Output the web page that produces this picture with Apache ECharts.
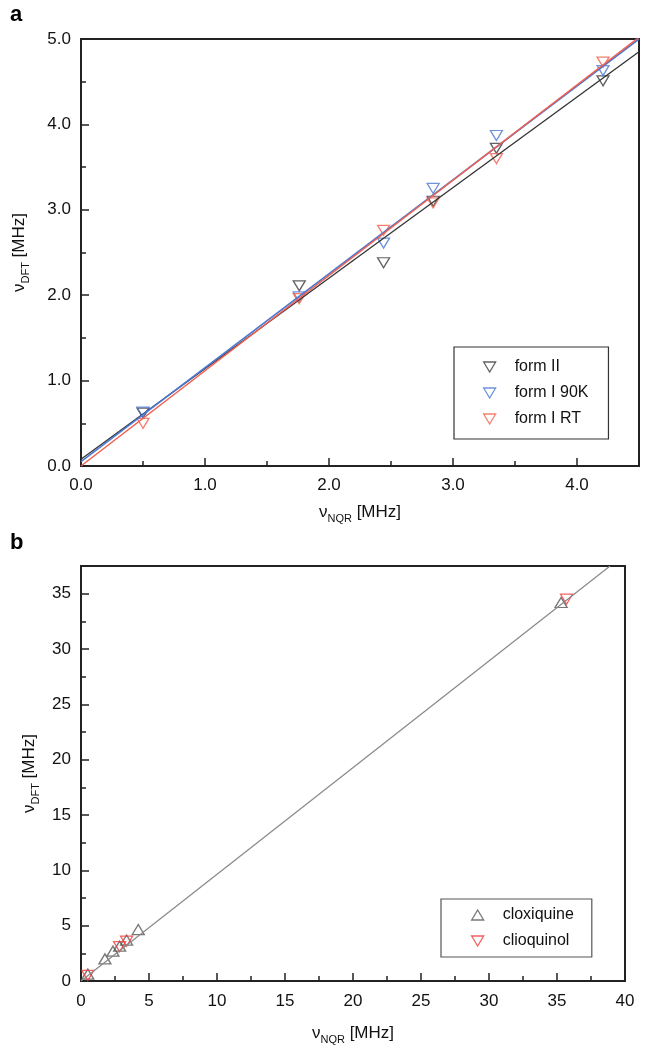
<!DOCTYPE html>
<html>
<head>
<meta charset="utf-8">
<script src="https://cdn.jsdelivr.net/npm/echarts@6/dist/echarts.min.js"></script>
<style>
html,body{margin:0;padding:0;background:#fff;}
#c{width:650px;height:1049px;}
</style>
</head>
<body>
<div id="c"></div>
<script>
// Panel a data (nu_NQR, nu_DFT) in MHz
var formII = [[0.50,0.62],[1.76,2.11],[2.44,2.38],[2.84,3.10],[3.35,3.72],[4.21,4.51]];
var formI90K = [[0.50,0.63],[1.76,1.98],[2.44,2.61],[2.84,3.25],[3.35,3.87],[4.21,4.63]];
var formIRT = [[0.50,0.50],[1.76,1.96],[2.44,2.76],[2.84,3.08],[3.35,3.60],[4.21,4.73]];
var fitII = [[0,0.08],[4.5,4.85]];
var fit90K = [[0,0.05],[4.5,5.0]];
var fitRT = [[0,0.0],[4.5,5.02]];
// Panel b data
var cloxiquine = [[0.50,0.62],[1.76,2.00],[2.35,2.70],[2.84,3.15],[3.35,3.70],[4.21,4.65],[35.3,34.2]];
var clioquinol = [[0.50,0.50],[2.84,3.10],[3.35,3.60],[35.7,34.5]];
var fitB = [[0,0],[38.9,37.5]];
// tick settings
var ticksA = {xMax:4.5, xStep:1, yMax:5, yStep:1};
var ticksB = {xMax:40, xStep:5, yMax:37.5, yStep:5};

var FONT = '"Liberation Sans", Arial, sans-serif';
var AX = '#222';
var BLACK = '#3a3a3a', BLUE = '#4a78d2', RED = '#f2604e', RED2 = '#f03a3a';
var downIcon = 'path://M0,0L12,0L6,10Z';
var upIcon = 'path://M6,0L12,10L0,10Z';

function axisLine(){ return {show:true, onZero:false, lineStyle:{color:AX, width:2}}; }
function lbl(extra){ return Object.assign({color:'#111', fontSize:17, fontFamily:FONT}, extra||{}); }
var rich = {
  n:{fontSize:17, fontFamily:FONT, color:'#111', verticalAlign:'top'},
  s:{fontSize:11, fontFamily:FONT, color:'#111', verticalAlign:'top', padding:[9,0,0,0]}
};

function hollow(color, w){ return {color:'rgba(0,0,0,0)', borderColor:color, borderWidth:w||1.2}; }

var chart = echarts.init(document.getElementById('c'), null, {renderer:'canvas'});
chart.setOption({
  animation:false,
  backgroundColor:'#fff',
  graphic:[
    {type:'text', left:10, top:4, style:{text:'a', font:'bold 22px '+FONT, fill:'#000'}},
    {type:'text', left:10, top:532, style:{text:'b', font:'bold 22px '+FONT, fill:'#000'}}
  ],
  grid:[
    {left:81, top:39, width:558, height:427, show:true, borderColor:AX, borderWidth:2, backgroundColor:'transparent'},
    {left:81, top:566, width:544, height:415, show:true, borderColor:AX, borderWidth:2, backgroundColor:'transparent'}
  ],
  xAxis:[
    {gridIndex:0, type:'value', position:'bottom', min:0, max:ticksA.xMax, interval:ticksA.xStep/2, axisLine:axisLine(),
     axisTick:{inside:true, length:5, lineStyle:{color:AX, width:1.5}}, axisLabel:{show:false}, splitLine:{show:false}},
    {gridIndex:0, type:'value', position:'bottom', offset:0, min:0, max:ticksA.xMax, interval:ticksA.xStep, axisLine:axisLine(),
     axisTick:{inside:true, length:8, lineStyle:{color:AX, width:1.5}},
     axisLabel:lbl({margin:11, formatter:function(v){ return (Math.abs(v-Math.round(v))<1e-9) ? v.toFixed(1) : ''; }}),
     splitLine:{show:false},
     name:'{n|ν}{s|NQR}{n| [MHz]}', nameLocation:'middle', nameGap:38, nameTextStyle:{rich:rich}},
    {gridIndex:1, type:'value', position:'bottom', min:0, max:ticksB.xMax, interval:ticksB.xStep, axisLine:axisLine(),
     axisTick:{inside:true, length:8, lineStyle:{color:AX, width:1.5}},
     minorTick:{show:true, splitNumber:2, length:5, lineStyle:{color:AX, width:1.5}},
     axisLabel:lbl({margin:12}), splitLine:{show:false}, minorSplitLine:{show:false},
     name:'{n|ν}{s|NQR}{n| [MHz]}', nameLocation:'middle', nameGap:44, nameTextStyle:{rich:rich}}
  ],
  yAxis:[
    {gridIndex:0, type:'value', position:'left', min:0, max:ticksA.yMax, interval:ticksA.yStep, axisLine:axisLine(),
     axisTick:{inside:true, length:8, lineStyle:{color:AX, width:1.5}},
     minorTick:{show:true, splitNumber:2, length:5, lineStyle:{color:AX, width:1.5}},
     axisLabel:lbl({margin:10, formatter:function(v){ return v.toFixed(1); }}),
     splitLine:{show:false}, minorSplitLine:{show:false},
     name:'{n|ν}{s|DFT}{n| [MHz]}', nameLocation:'middle', nameGap:50, nameRotate:90, nameTextStyle:{rich:rich}},
    {gridIndex:1, type:'value', position:'left', min:0, max:ticksB.yMax, interval:ticksB.yStep/2, axisLine:axisLine(),
     axisTick:{inside:true, length:5, lineStyle:{color:AX, width:1.5}}, axisLabel:{show:false}, splitLine:{show:false}},
    {gridIndex:1, type:'value', position:'left', offset:0, min:0, max:ticksB.yMax, interval:ticksB.yStep, axisLine:axisLine(),
     axisTick:{inside:true, length:8, lineStyle:{color:AX, width:1.5}},
     axisLabel:lbl({margin:10, formatter:function(v){ return (v % 5 === 0) ? String(v) : ''; }}),
     splitLine:{show:false},
     name:'{n|ν}{s|DFT}{n| [MHz]}', nameLocation:'middle', nameGap:40, nameRotate:90, nameTextStyle:{rich:rich}}
  ],
  legend:[
    {orient:'vertical', left:454, top:347, padding:[12,20,12,29], itemGap:10, itemWidth:12, itemHeight:10,
     borderColor:'#333', borderWidth:1.2, borderRadius:0, backgroundColor:'#fff',
     textStyle:{fontSize:16, fontFamily:FONT, color:'#111', padding:[0,0,0,14]},
     data:[
       {name:'form II', icon:downIcon, itemStyle:hollow(BLACK,1.3)},
       {name:'form I 90K', icon:downIcon, itemStyle:hollow(BLUE,1.3)},
       {name:'form I RT', icon:downIcon, itemStyle:hollow(RED,1.3)}
     ]},
    {orient:'vertical', left:441, top:899, padding:[8,18,8,30], itemGap:10, itemWidth:12, itemHeight:10,
     borderColor:'#555', borderWidth:1.2, borderRadius:0, backgroundColor:'#fff',
     textStyle:{fontSize:16, fontFamily:FONT, color:'#111', padding:[0,0,0,14]},
     data:[
       {name:'cloxiquine', icon:upIcon, itemStyle:hollow('#555',1.3)},
       {name:'clioquinol', icon:downIcon, itemStyle:hollow(RED2,1.3)}
     ]}
  ],
  series:[
    {name:'fit II', type:'line', xAxisIndex:1, yAxisIndex:0, data:fitII, symbol:'none', silent:true, lineStyle:{color:'#333', width:1.3}},
    {name:'fit 90K', type:'line', xAxisIndex:1, yAxisIndex:0, data:fit90K, symbol:'none', silent:true, lineStyle:{color:BLUE, width:1.6}},
    {name:'fit RT', type:'line', xAxisIndex:1, yAxisIndex:0, data:fitRT, symbol:'none', silent:true, lineStyle:{color:RED, width:1.5}},
    {name:'form II', type:'scatter', xAxisIndex:1, yAxisIndex:0, data:formII, symbol:'triangle', symbolRotate:180, symbolSize:[12,10], silent:true, itemStyle:hollow(BLACK,1.3)},
    {name:'form I 90K', type:'scatter', xAxisIndex:1, yAxisIndex:0, data:formI90K, symbol:'triangle', symbolRotate:180, symbolSize:[12,10], silent:true, itemStyle:hollow(BLUE,1.3)},
    {name:'form I RT', type:'scatter', xAxisIndex:1, yAxisIndex:0, data:formIRT, symbol:'triangle', symbolRotate:180, symbolSize:[12,10], silent:true, itemStyle:hollow(RED,1.3)},
    {name:'fit b', type:'line', xAxisIndex:2, yAxisIndex:2, data:fitB, symbol:'none', silent:true, lineStyle:{color:'#888', width:1.2}},
    {name:'cloxiquine', type:'scatter', xAxisIndex:2, yAxisIndex:2, data:cloxiquine, symbol:'triangle', symbolSize:[12,10], silent:true, itemStyle:hollow('#555',1.3)},
    {name:'clioquinol', type:'scatter', xAxisIndex:2, yAxisIndex:2, data:clioquinol, symbol:'triangle', symbolRotate:180, symbolSize:[12,10], silent:true, itemStyle:hollow(RED2,1.3)}
  ]
});
</script>
</body>
</html>
